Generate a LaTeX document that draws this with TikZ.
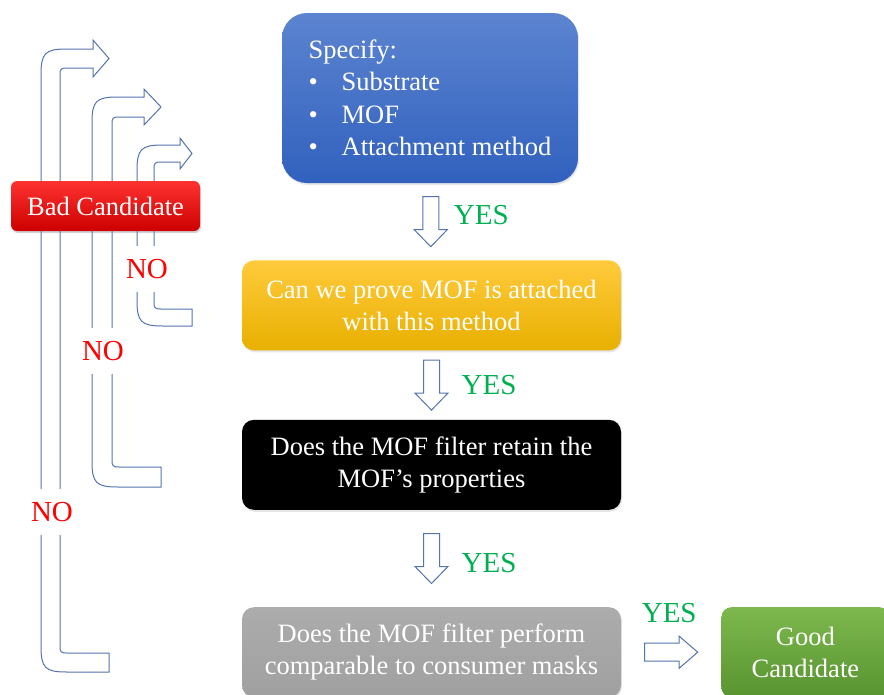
\documentclass[tikz,border=0pt]{standalone}
\usepackage{fontspec}
\setmainfont{Liberation Serif}
\usetikzlibrary{positioning, calc, shadows}

\definecolor{arrline}{HTML}{5573AF}
\definecolor{yesgreen}{HTML}{00B050}
\definecolor{nored}{HTML}{FF0000}

\begin{document}
\begin{tikzpicture}[
  x=1pt, y=-1pt,
  font=\fontsize{26.5}{32.5}\selectfont,
  box/.style={rounded corners=12pt, minimum width=379pt, minimum height=90pt,
              align=center, text=white, inner sep=0pt,
              drop shadow={shadow xshift=1pt, shadow yshift=-2pt, opacity=.2}},
  hollow/.style={draw=arrline, fill=white, line width=1pt},
  yeslbl/.style={text=yesgreen, font=\fontsize{29}{30}\selectfont, inner sep=0pt},
  nolbl/.style={text=nored, fill=white, font=\fontsize{29}{30}\selectfont,
                inner xsep=1pt, inner ysep=13pt},
  downarr/.pic={\draw[hollow] (-8,-25) -- (8,-25) -- (8,8) -- (16.5,8) -- (0,25)
                -- (-16.5,8) -- (-8,8) -- cycle;},
  rightarr/.pic={\draw[hollow] (-26.5,-9) -- (8,-9) -- (8,-16) -- (26.5,0)
                 -- (8,16) -- (8,9) -- (-26.5,9) -- cycle;}
]
\useasboundingbox (0,0) rectangle (884,694);

% question boxes
\node[box, align=left, minimum width=296pt, minimum height=170pt, rounded corners=25pt,
      top color={rgb,255:red,92;green,132;blue,208}, bottom color={rgb,255:red,49;green,97;blue,190}]
  (spec) at (430,98) {Specify:\\
  \makebox[33pt][l]{\textbullet}Substrate\\
  \makebox[33pt][l]{\textbullet}MOF\\
  \makebox[33pt][l]{\textbullet}Attachment method};
\node[box, top color={rgb,255:red,255;green,202;blue,60}, bottom color={rgb,255:red,232;green,176;blue,0},
      below=77pt of spec, xshift=1.5pt] (prove) {Can we prove MOF is attached\\with this method};
\node[box, fill=black, below=69pt of prove] (retain) {Does the MOF filter retain the\\MOF's properties};
\node[box, top color={rgb,255:red,172;green,172;blue,172}, bottom color={rgb,255:red,160;green,160;blue,160},
      below=97pt of retain] (perform) {Does the MOF filter perform\\comparable to consumer masks};
\node[box, minimum width=168pt, rounded corners=10pt,
      top color={rgb,255:red,125;green,184;blue,78}, bottom color={rgb,255:red,88;green,148;blue,48},
      right=100pt of perform] (good) {Good\\Candidate};

% yes arrows
\coordinate (d1) at ($(spec.south)!.5!(prove.north)$);
\coordinate (d2) at ($(prove.south)!.5!(retain.north)$);
\coordinate (d3) at ($(retain.south)!.5!(perform.north)$);
\coordinate (d4) at ($(perform.east)!.5!(good.west)$);
\pic at (d1) {downarr};
\pic at (d2) {downarr};
\pic at (d3) {downarr};
\pic at (d4) {rightarr};
\node[yeslbl, right=23pt of d1, yshift=6.5pt] (y1) {YES};
\node[yeslbl, right=30pt of d2] (y2) {YES};
\node[yeslbl, right=30pt of d3, yshift=-4.5pt] (y3) {YES};
\node[yeslbl, above=29pt of d4, xshift=-2pt] (y4) {YES};

% no loops back to the start
\foreach \l/\b/\r/\t/\w/\e/\h in {41/672/109/49/19/9/16, 92/487/161/97/20/8/17, 137/326/192/145/17/7/12}
  \draw[hollow] (\r,\b) -- (\l+26,\b) .. controls (\l+4,\b) and (\l,\b-4) .. (\l,\b-26) -- (\l,\t+26)
    .. controls (\l,\t+4) and (\l+4,\t) .. (\l+26,\t) -- (\r-\h,\t) -- (\r-\h,\t-\e) -- (\r,\t+\w/2)
    -- (\r-\h,\t+\w+\e) -- (\r-\h,\t+\w) -- (\l+\w+7,\t+\w) .. controls (\l+\w+1,\t+\w) and (\l+\w,\t+\w+1) .. (\l+\w,\t+\w+7)
    -- (\l+\w,\b-\w-7) .. controls (\l+\w,\b-\w-1) and (\l+\w+1,\b-\w) .. (\l+\w+7,\b-\w) -- (\r,\b-\w) -- cycle;
\node[nolbl] (no1) at (147,269) {NO};
\node[nolbl] (no2) at (103,351) {NO};
\node[nolbl] (no3) at (52,512) {NO};

\node[rounded corners=6pt, minimum width=189pt, minimum height=50pt, text=white, inner sep=0pt,
      top color={rgb,255:red,255;green,50;blue,50}, bottom color={rgb,255:red,205;green,0;blue,0},
      drop shadow={shadow xshift=1pt, shadow yshift=-2pt, opacity=.35}]
  (bad) at (105.5,206) {\raisebox{-3pt}{Bad Candidate}};
\end{tikzpicture}
\end{document}
